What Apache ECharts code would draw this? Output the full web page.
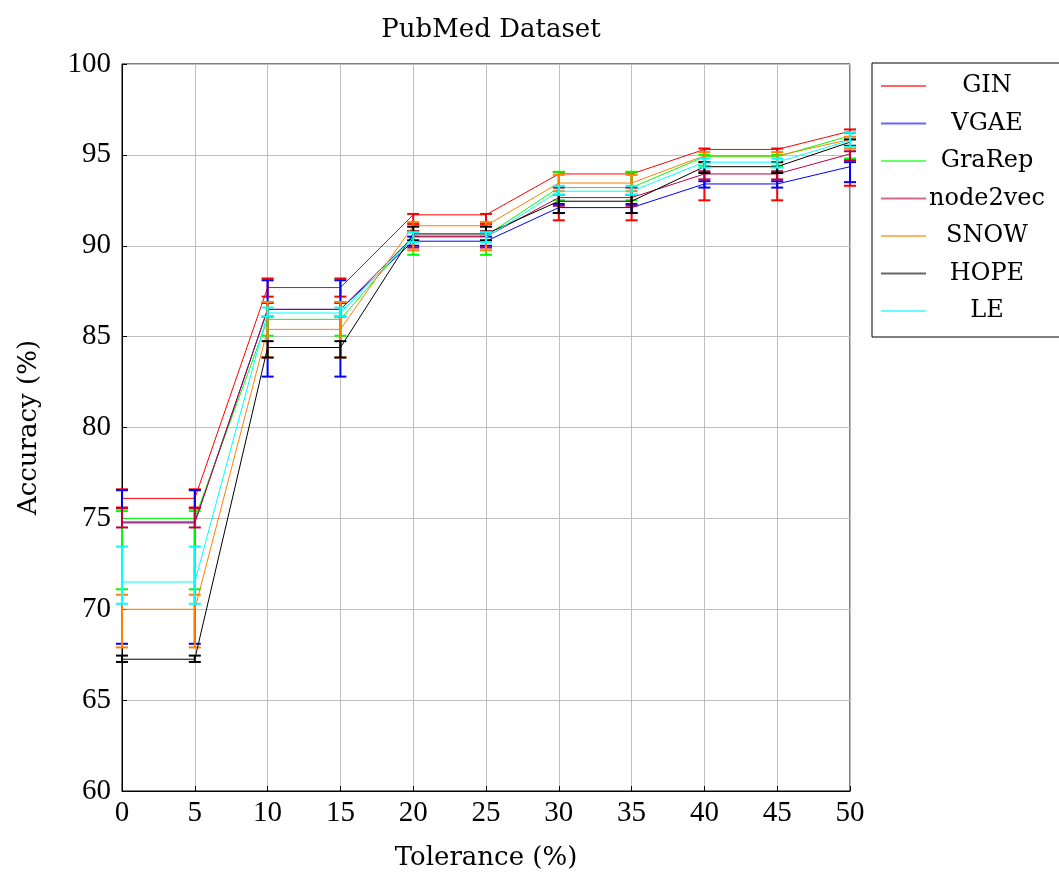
<!DOCTYPE html>
<html>
<head>
<meta charset="utf-8">
<script src="https://cdn.jsdelivr.net/npm/echarts@6/dist/echarts.min.js"></script>
<style>html,body{margin:0;padding:0;background:#fff;}#c{width:1059px;height:872px;}</style>
</head>
<body>
<div id="c"></div>
<script>
const xs = [0,5,10,15,20,25,30,35,40,45,50];
const xTicks = [0,5,10,15,20,25,30,35,40,45,50];
const yTicks = [60,65,70,75,80,85,90,95,100];
const seriesNames = ['GIN','VGAE','GraRep','node2vec','SNOW','HOPE','LE'];

const GIN      = [76.1,76.1,87.7,87.7,91.7,91.7,93.95,93.95,95.3,95.3,96.3];
const GIN_hi   = [76.6,76.6,88.2,88.2,91.75,91.75,94.05,94.05,95.35,95.35,96.4];
const GIN_lo   = [75.6,75.6,87.2,87.2,91.2,91.2,91.4,91.4,92.5,92.5,93.3];

const VGAE     = [74.8,74.8,86.5,86.5,90.25,90.25,92.1,92.1,93.4,93.4,94.35];
const VGAE_hi  = [76.55,76.55,88.1,88.1,90.5,90.5,92.3,92.3,93.55,93.55,94.6];
const VGAE_lo  = [68.1,68.1,82.8,82.8,90.0,90.0,91.8,91.8,93.2,93.2,93.5];

const GraRep    = [75.0,75.0,85.95,85.95,90.55,90.55,93.2,93.2,94.9,94.9,96.05];
const GraRep_hi = [75.4,75.4,86.9,86.9,90.8,90.8,94.07,94.07,95.0,95.0,96.2];
const GraRep_lo = [71.1,71.1,85.05,85.05,89.5,89.5,92.5,92.5,94.4,94.4,94.8];

const node2vec    = [74.75,74.75,86.5,86.5,90.5,90.5,92.65,92.65,93.95,93.95,95.05];
const node2vec_hi = [75.55,75.55,86.85,86.85,90.8,90.8,93.2,93.2,94.1,94.1,95.2];
const node2vec_lo = [74.5,74.5,86.1,86.1,89.9,89.9,92.2,92.2,93.65,93.65,94.7];

const SNOW    = [70.0,70.0,85.4,85.4,91.1,91.1,93.45,93.45,94.95,94.95,95.85];
const SNOW_hi = [70.8,70.8,86.9,86.9,91.3,91.3,93.9,93.9,95.15,95.15,96.0];
const SNOW_lo = [67.9,67.9,83.85,83.85,89.75,89.75,93.0,93.0,94.6,94.6,95.35];

const HOPE    = [67.25,67.25,84.4,84.4,90.65,90.65,92.45,92.45,94.35,94.35,95.7];
const HOPE_hi = [67.45,67.45,84.75,84.75,91.05,91.05,92.8,92.8,94.6,94.6,95.85];
const HOPE_lo = [67.1,67.1,83.85,83.85,90.3,90.3,91.8,91.8,94.0,94.0,95.5];

const LE    = [71.5,71.5,86.3,86.3,90.45,90.45,93.0,93.0,94.6,94.6,95.8];
const LE_hi = [73.45,73.45,86.6,86.6,90.75,90.75,93.3,93.3,94.8,94.8,96.25];
const LE_lo = [70.3,70.3,86.1,86.1,90.2,90.2,92.8,92.8,94.3,94.3,95.45];

const colors = ['#ff0000','#0000ff','#00ff00','#bf0040','#ff8000','#000000','#00ffff'];
const vals = [GIN,VGAE,GraRep,node2vec,SNOW,HOPE,LE];
const his = [GIN_hi,VGAE_hi,GraRep_hi,node2vec_hi,SNOW_hi,HOPE_hi,LE_hi];
const los = [GIN_lo,VGAE_lo,GraRep_lo,node2vec_lo,SNOW_lo,HOPE_lo,LE_lo];

const WFONT = 'DejaVu Serif';
const NFONT = 'Liberation Serif';
const series = [];
seriesNames.forEach((name, i) => {
  const col = colors[i];
  series.push({
    name: name, type: 'line', data: xs.map((x, j) => [x, vals[i][j]]),
    symbol: 'none', lineStyle: {color: col, width: 1}, itemStyle: {color: col},
    z: 2 + i * 2, animation: false
  });
  series.push({
    name: name + ' err', type: 'custom', z: 3 + i * 2, animation: false, clip: false,
    data: xs.map((x, j) => [x, los[i][j], his[i][j]]),
    encode: {x: 0, y: [1, 2]},
    renderItem: function (params, api) {
      const x = api.value(0), lo = api.value(1), hi = api.value(2);
      const a = api.coord([x, hi]), b = api.coord([x, lo]);
      const w = 6;
      const st = {stroke: col, lineWidth: 2};
      return {type: 'group', children: [
        {type: 'line', shape: {x1: a[0], y1: a[1], x2: b[0], y2: b[1]}, style: st},
        {type: 'line', shape: {x1: a[0] - w, y1: a[1], x2: a[0] + w, y2: a[1]}, style: st},
        {type: 'line', shape: {x1: b[0] - w, y1: b[1], x2: b[0] + w, y2: b[1]}, style: st}
      ]};
    }
  });
});

const chart = echarts.init(document.getElementById('c'), null, {renderer: 'canvas'});
chart.setOption({
  backgroundColor: '#fff',
  animation: false,
  title: {
    text: 'PubMed Dataset', left: 486, top: 12, textAlign: 'center',
    textStyle: {fontFamily: WFONT, fontSize: 26, fontWeight: 'normal', color: '#000'}
  },
  legend: {
    data: seriesNames, orient: 'vertical', left: 872, top: 63,
    padding: [11, 20, 14, 9], itemGap: 13.5, itemWidth: 45, itemHeight: 2,
    icon: 'rect', borderColor: '#000', borderWidth: 1, backgroundColor: '#fff',
    itemStyle: {opacity: 0.6},
    formatter: n => '{c|' + n + '}',
    textStyle: {rich: {c: {width: 112, align: 'center', fontFamily: WFONT, fontSize: 24, lineHeight: 26, color: '#000'}}}
  },
  grid: {left: 122, top: 64, width: 728, height: 727, outerBoundsMode: 'none', containLabel: false,
    show: true, borderColor: '#000', borderWidth: 1, backgroundColor: 'transparent'},
  xAxis: {
    type: 'value', min: xTicks[0], max: xTicks[xTicks.length - 1], interval: 5,
    name: 'Tolerance (%)', nameLocation: 'middle', nameGap: 54,
    nameTextStyle: {fontFamily: WFONT, fontSize: 26, color: '#000'},
    axisLine: {lineStyle: {color: '#000'}},
    axisTick: {inside: true, length: 5, lineStyle: {color: '#000'}},
    axisLabel: {fontFamily: NFONT, fontSize: 29, color: '#000', margin: 8},
    splitLine: {show: true, lineStyle: {color: '#bfbfbf', width: 1}}
  },
  yAxis: {
    type: 'value', min: yTicks[0], max: yTicks[yTicks.length - 1], interval: 5,
    name: 'Accuracy (%)', nameLocation: 'middle', nameGap: 80,
    nameTextStyle: {fontFamily: WFONT, fontSize: 26, color: '#000'},
    axisLine: {show: true, lineStyle: {color: '#000'}},
    axisTick: {show: true, inside: true, length: 5, lineStyle: {color: '#000'}},
    axisLabel: {fontFamily: NFONT, fontSize: 29, color: '#000', margin: 11},
    splitLine: {show: true, lineStyle: {color: '#bfbfbf', width: 1}}
  },
  series: series
});
</script>
</body>
</html>
